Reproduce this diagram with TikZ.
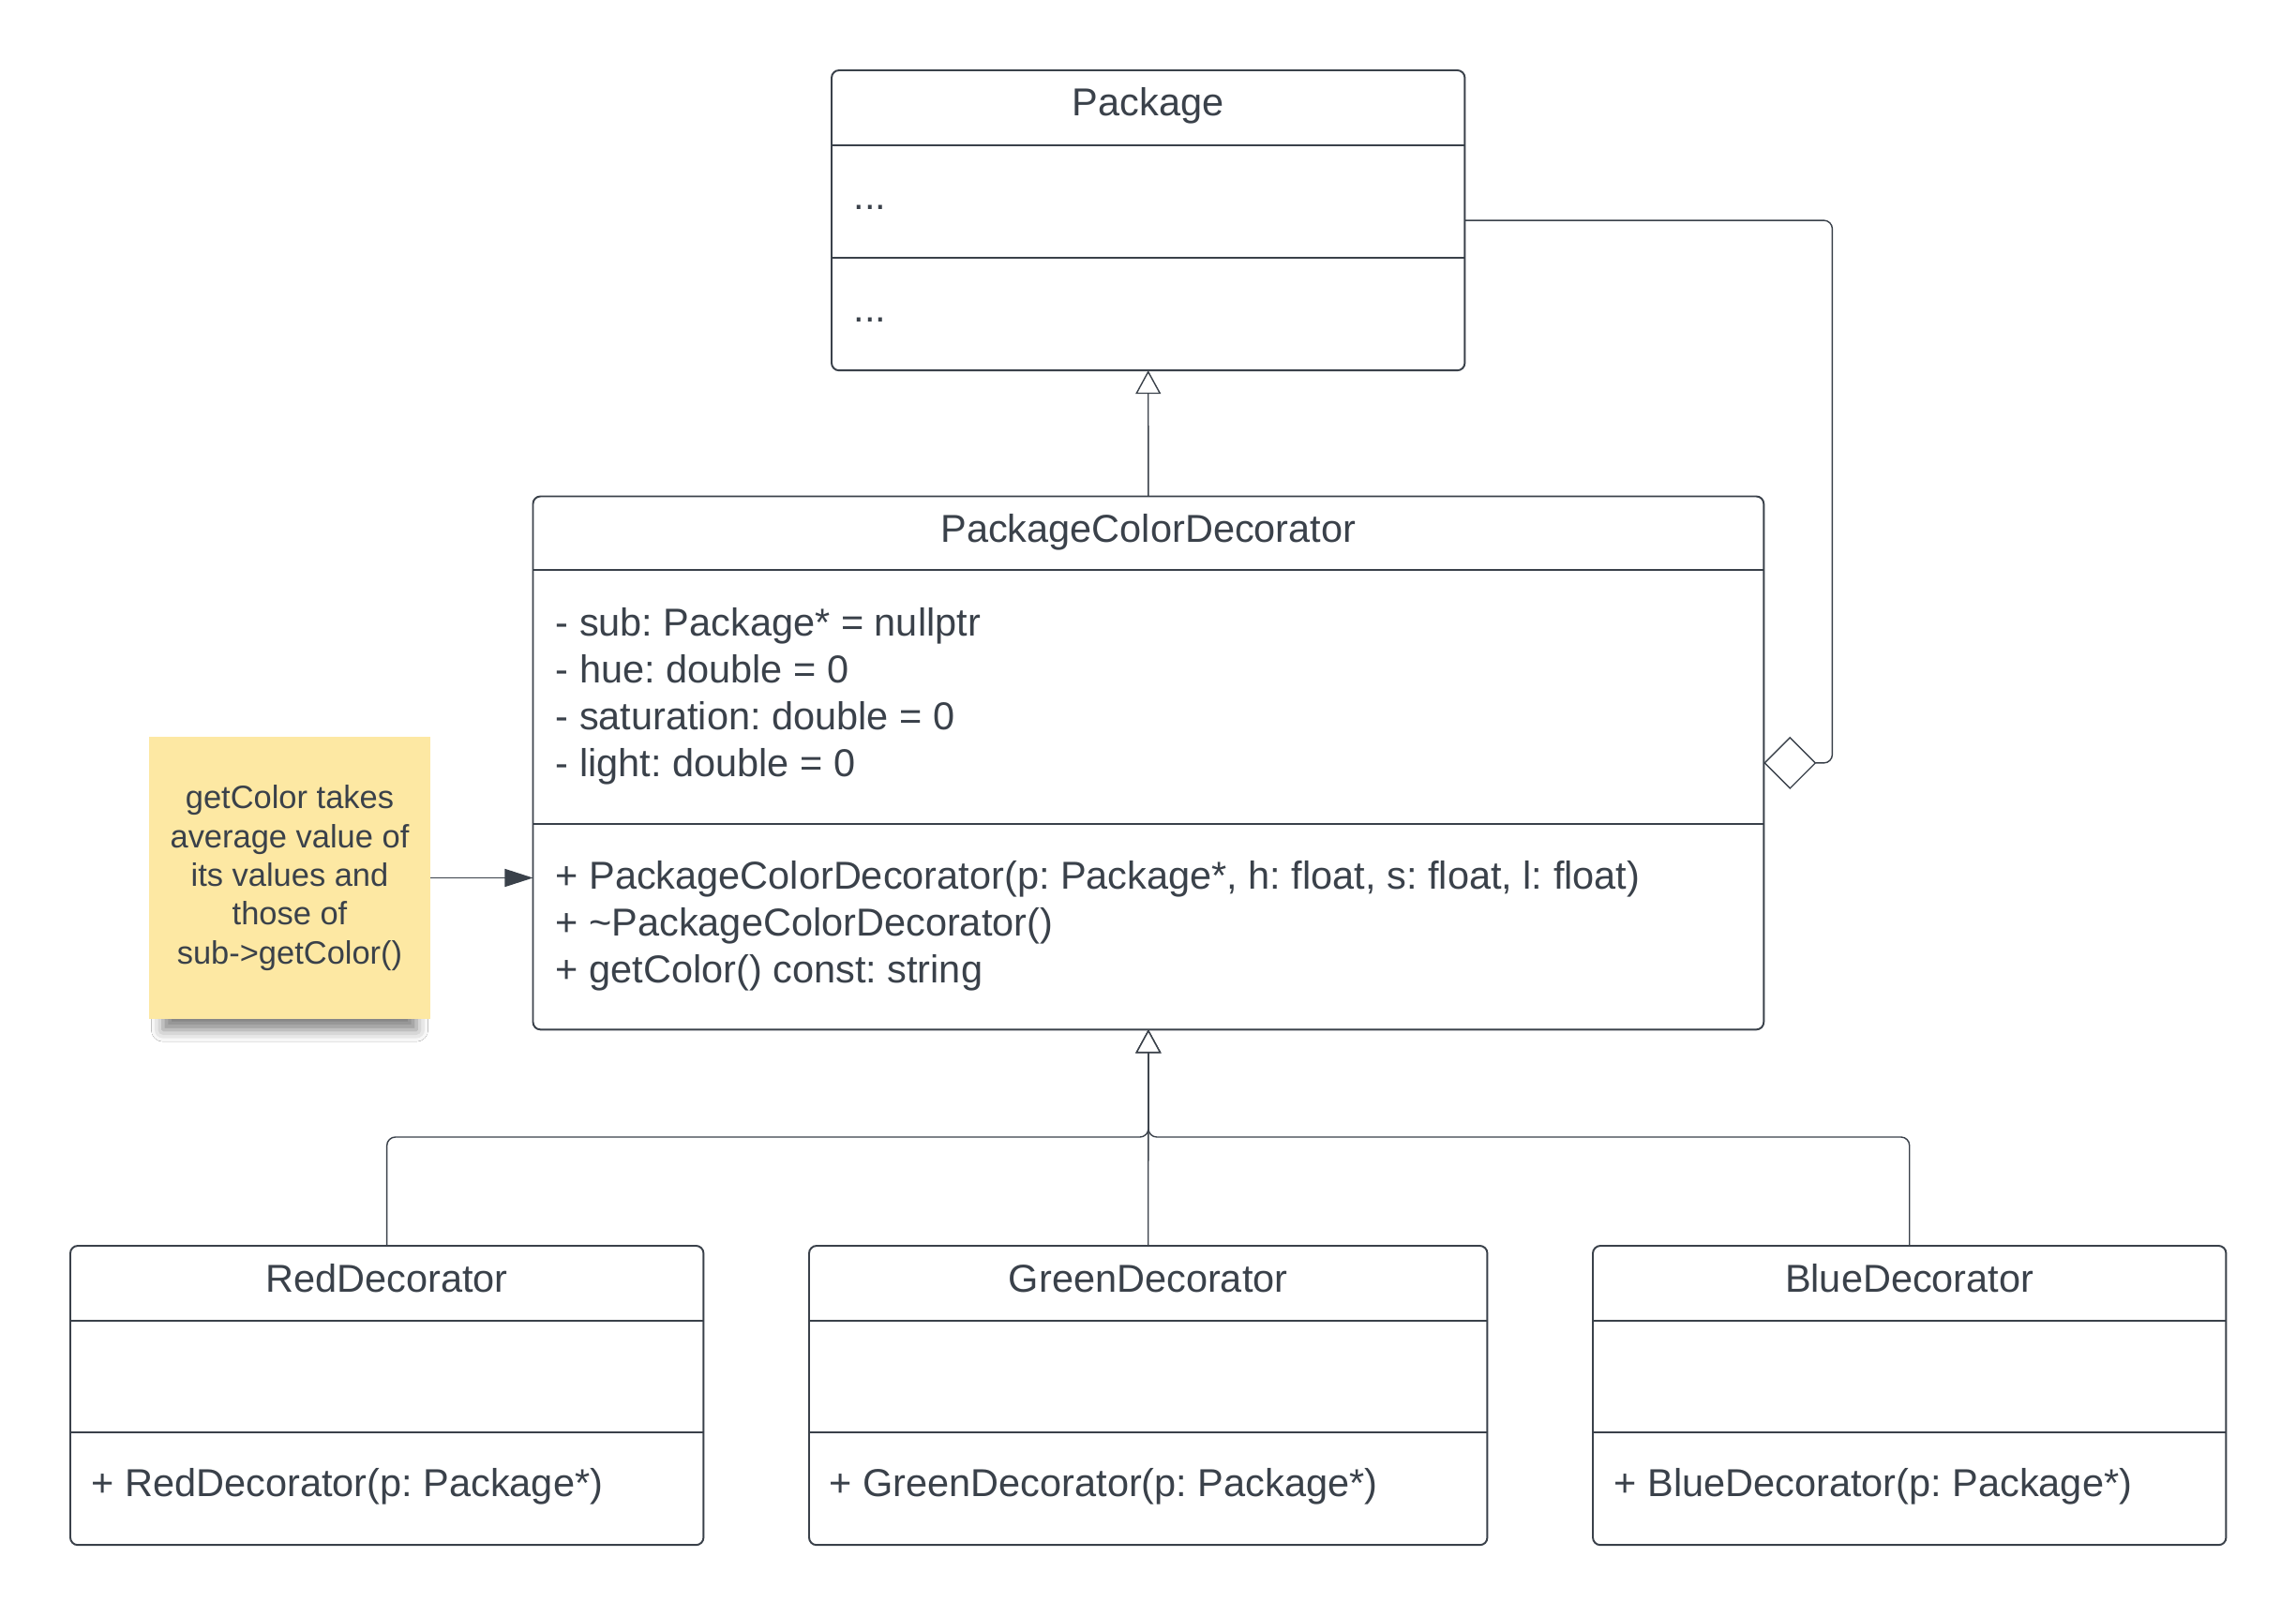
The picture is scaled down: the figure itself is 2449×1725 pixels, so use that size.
\documentclass[tikz,border=0pt]{standalone}
\usepackage{fontspec}
\setmainfont{Liberation Sans}
\usetikzlibrary{arrows.meta,shadows.blur,calc}
\definecolor{ink}{HTML}{3A414A}
\definecolor{notefill}{HTML}{FDE8A3}
\frenchspacing
\begin{document}
\begin{tikzpicture}[x=0.01cm,y=-0.01cm,
  classbox/.style={draw=ink,line width=0.55pt,rounded corners=0.08cm,inner sep=0pt,outer sep=0pt,anchor=north west,fill=white},
  divider/.style={draw=ink,line width=0.55pt},
  title/.style={anchor=base,inner sep=0pt,text=ink,font=\fontsize{11.8}{14.2}\selectfont},
  member/.style={anchor=base west,inner sep=0pt,text=ink,font=\fontsize{11.8}{14.2}\selectfont},
  conn/.style={draw=ink,line width=0.4pt},
  inherit/.style={conn,rounded corners=0.09cm,-{Triangle[open,length=0.25cm,width=0.27cm,fill=white]}},
  notebox/.style={fill=notefill,inner sep=0pt,outer sep=0pt,minimum width=3.0cm,minimum height=3.0cm,
    align=center,text=ink,font=\fontsize{9.8}{11.75}\selectfont,
    blur shadow={shadow xshift=0pt,shadow yshift=-0.3cm,shadow scale=0.9,shadow opacity=50,shadow blur radius=0.14cm}}
]
\useasboundingbox[fill=white] (0,0) rectangle (2449,1725);

% Package
\node[classbox,minimum width=6.75cm,minimum height=3.2cm] (pkg) at (887,75) {};
\draw[divider] (pkg.west |- 0,155) -- (pkg.east |- 0,155);
\draw[divider] (pkg.west |- 0,275) -- (pkg.east |- 0,275);
\node[title] (pkgT) at (pkg.north |- 0,124) {Package};
\node[member] (pkgA) at (910,224) {...};
\node[member] (pkgM) at (910,344) {...};

% PackageColorDecorator
\node[classbox,minimum width=13.12cm,minimum height=5.685cm] (pcd) at (568.5,529.5) {};
\draw[divider] (pcd.west |- 0,607.6) -- (pcd.east |- 0,607.6);
\draw[divider] (pcd.west |- 0,879.3) -- (pcd.east |- 0,879.3);
\node[title] (pcdT) at (pcd.north |- 0,579) {PackageColorDecorator};
\node[member] (pcdA1) at (592,678) {- sub: Package* = nullptr};
\node[member] (pcdA2) at (592,728) {- hue: double = 0};
\node[member] (pcdA3) at (592,778) {- saturation: double = 0};
\node[member] (pcdA4) at (592,828) {- light: double = 0};
\node[member] (pcdM1) at (592,948) {+ PackageColorDecorator(p: Package*, h: float, s: float, l: float)};
\node[member] (pcdM2) at (592,998) {+ \textasciitilde PackageColorDecorator()};
\node[member] (pcdM3) at (592,1048) {+ getColor() const: string};

% Children
\node[classbox,minimum width=6.75cm,minimum height=3.19cm] (red) at (75,1329) {};
\node[classbox,minimum width=7.23cm,minimum height=3.19cm] (green) at (863,1329) {};
\node[classbox,minimum width=6.75cm,minimum height=3.19cm] (blue) at (1699,1329) {};
\foreach \n in {red,green,blue}{
  \draw[divider] (\n.west |- 0,1409) -- (\n.east |- 0,1409);
  \draw[divider] (\n.west |- 0,1528) -- (\n.east |- 0,1528);
}
\node[title] (redT) at (red.north |- 0,1378) {RedDecorator};
\node[title] (greenT) at (green.north |- 0,1378) {GreenDecorator};
\node[title] (blueT) at (blue.north |- 0,1378) {BlueDecorator};
\node[member] (redM) at (97,1596) {+ RedDecorator(p: Package*)};
\node[member] (greenM) at (884,1596) {+ GreenDecorator(p: Package*)};
\node[member] (blueM) at (1721,1596) {+ BlueDecorator(p: Package*)};

% Note
\node[notebox] (note) at (309,936.5) {getColor takes\\average value of\\its values and\\those of\\sub->getColor()};

% Connectors
\draw[inherit] (pcd.north) -- (pkg.south);
\draw[inherit] (green.north) -- (pcd.south);
\draw[inherit] (red.north) -- ++(0,-116) -| (pcd.south);
\draw[inherit] (blue.north) -- ++(0,-116) -| (pcd.south);
\draw[conn,rounded corners=0.09cm,-{Diamond[open,length=0.56cm,width=0.56cm,fill=white]}]
  (pkg.east) -- ++(392,0) |- (pcd.east);
\draw[conn,-{Triangle[length=0.3cm,width=0.19cm]}] (note.east) -- (note.east -| pcd.west);
\end{tikzpicture}
\end{document}
